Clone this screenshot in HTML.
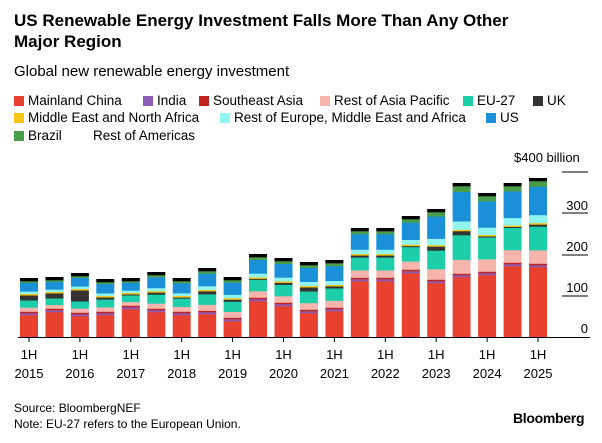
<!DOCTYPE html>
<html><head><meta charset="utf-8"><style>
body{margin:0;width:602px;height:443px;background:#fff;font-family:"Liberation Sans",Arial,sans-serif;color:#000;position:relative;overflow:hidden}
.a{position:absolute;white-space:nowrap}
.t{font-weight:bold;font-size:17px;line-height:21px;left:14px;top:10px}
.s{font-size:15px;left:14px;top:63px}
.lg{font-size:13.5px;line-height:16px}
.sw{display:inline-block;width:10px;height:10px;margin-right:4px;vertical-align:-1px}
.xl{font-size:13px;text-align:center;width:40px;line-height:19px}
.yl{font-size:13px;text-align:right;width:60px}
</style></head><body>
<div class="a t">US Renewable Energy Investment Falls More Than Any Other<br>Major Region</div>
<div class="a s">Global new renewable energy investment</div>
<div class="a lg" style="left:14px;top:93px"><span class="sw" style="background:#e8412f"></span>Mainland China</div>
<div class="a lg" style="left:143px;top:93px"><span class="sw" style="background:#8e5bb5"></span>India</div>
<div class="a lg" style="left:199px;top:93px"><span class="sw" style="background:#c0231b"></span>Southeast Asia</div>
<div class="a lg" style="left:320px;top:93px"><span class="sw" style="background:#f5b5ad"></span>Rest of Asia Pacific</div>
<div class="a lg" style="left:463px;top:93px"><span class="sw" style="background:#1ccfaa"></span>EU-27</div>
<div class="a lg" style="left:533px;top:93px"><span class="sw" style="background:#333"></span>UK</div>
<div class="a lg" style="left:14px;top:110px"><span class="sw" style="background:#f5c518"></span>Middle East and North Africa</div>
<div class="a lg" style="left:220px;top:110px"><span class="sw" style="background:#8ff5ee"></span>Rest of Europe, Middle East and Africa</div>
<div class="a lg" style="left:486px;top:110px"><span class="sw" style="background:#1a90d8"></span>US</div>
<div class="a lg" style="left:14px;top:128px"><span class="sw" style="background:#4a9e4a"></span>Brazil</div>
<div class="a lg" style="left:93px;top:128px">Rest of Americas</div>
<svg class="a" style="left:0;top:0" width="602" height="443" id="c"></svg>
<div class="a" style="font-size:13px;left:514px;top:150px">$400 billion</div>
<div class="a yl" style="left:528px;top:198px">300</div>
<div class="a yl" style="left:528px;top:239px">200</div>
<div class="a yl" style="left:528px;top:280px">100</div>
<div class="a yl" style="left:528px;top:321px">0</div>
<div id="xl"></div>
<div class="a" style="font-size:12px;left:14px;top:401px">Source: BloombergNEF</div>
<div class="a" style="font-size:12px;left:14px;top:417px">Note: EU-27 refers to the European Union.</div>
<div class="a" style="font-size:14px;font-weight:bold;left:513px;top:410px;letter-spacing:-0.3px">Bloomberg</div>
<script>
var tot=[61,62,66,60,61,67,61,71,62,85,81,77,79,111,111,123,130,156,146,156,161];
var red=[22,25,21,22,28,25,22,23,16,36,31,24,26,56,56,64,54,60,62,71,70];
var uk=[5,5,11,2,1,2,1,3,2,1,2,4,2,2,2,1,4,4,1,1,2];
var col=["#e8412f","#8e5bb5","#c0231b","#f5b5ad","#1ccfaa","#333","#f5c518","#8ff5ee","#1a90d8","#4a9e4a","#000"];
var s='',base=337;
for(var i=0;i<21;i++){
 var x=20+i*25.45,R=tot[i]-red[i]-uk[i]-3-2-1.5-1.5-2;
 var seg=[red[i],2,1.5,R*0.17,R*0.3,uk[i],1.5,R*0.1,R*0.36,R*0.07,3];
 var y=base;
 for(var k=0;k<11;k++){y-=seg[k];s+='<rect x="'+x.toFixed(1)+'" y="'+y.toFixed(1)+'" width="18" height="'+(seg[k]+0.3).toFixed(1)+'" fill="'+col[k]+'"/>';}
}
s+='<line x1="18" x2="590" y1="337.5" y2="337.5" stroke="#000" stroke-width="1"/>';
[172,213,255,296].forEach(function(g){s+='<line x1="562" x2="588" y1="'+g+'" y2="'+g+'" stroke="#000" stroke-width="1"/>';});
var xh='';
for(var j=0;j<11;j++){var cx=29+j*2*25.45;s+='<line x1="'+cx+'" x2="'+cx+'" y1="337" y2="342" stroke="#000"/>';
 xh+='<div class="a xl" style="left:'+(cx-20)+'px;top:345px">1H<br>'+(2015+j)+'</div>';}
document.getElementById('c').innerHTML=s;document.getElementById('xl').innerHTML=xh;
</script>
</body></html>
